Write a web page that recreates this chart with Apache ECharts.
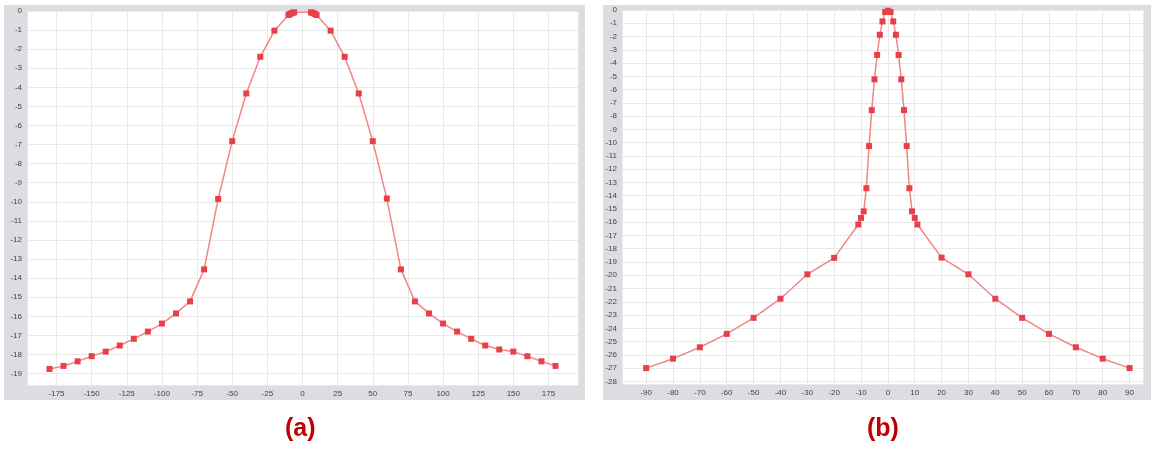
<!DOCTYPE html>
<html>
<head>
<meta charset="utf-8">
<script src="https://cdn.jsdelivr.net/npm/echarts@6/dist/echarts.min.js"></script>
<style>
html,body{margin:0;padding:0;background:#fff;}
#c{width:1151px;height:452px;}
</style>
</head>
<body>
<div id="c"></div>
<script>
// Chart (a)
const anglesA = [-180,-170,-160,-150,-140,-130,-120,-110,-100,-90,-80,-70,-60,-50,-40,-30,-20,-10,-9,-8,-7,-6,6,7,8,9,10,20,30,40,50,60,70,80,90,100,110,120,130,140,150,160,170,180];
const valuesA = [-18.76,-18.6,-18.36,-18.09,-17.85,-17.53,-17.18,-16.8,-16.38,-15.85,-15.22,-13.54,-9.85,-6.82,-4.32,-2.4,-1.03,-0.21,-0.16,-0.12,-0.09,-0.07,-0.07,-0.09,-0.12,-0.16,-0.21,-1.03,-2.4,-4.32,-6.82,-9.83,-13.54,-15.22,-15.85,-16.38,-16.8,-17.18,-17.53,-17.74,-17.85,-18.09,-18.36,-18.6];
// Chart (b)
const anglesB = [-90,-80,-70,-60,-50,-40,-30,-20,-11,-10,-9,-8,-7,-6,-5,-4,-3,-2,-1,0,1,2,3,4,5,6,7,8,9,10,11,20,30,40,50,60,70,80,90];
const valuesB = [-27.0,-26.29,-25.43,-24.42,-23.21,-21.77,-19.93,-18.69,-16.17,-15.68,-15.18,-13.44,-10.26,-7.55,-5.23,-3.39,-1.87,-0.86,-0.15,-0.05,-0.15,-0.86,-1.87,-3.39,-5.23,-7.55,-10.26,-13.44,-15.18,-15.68,-16.17,-18.67,-19.93,-21.77,-23.21,-24.42,-25.43,-26.29,-27.0];
const titles = ['(a)', '(b)'];

const chart = echarts.init(document.getElementById('c'), null, {renderer:'canvas'});
const labelStyle = {fontSize: 8, color: '#444', fontFamily: 'Liberation Sans, Arial, sans-serif'};
const splitLine = {show: true, lineStyle: {color: '#e9e9ec', width: 1}};
const lineColor = '#f28585';
const markColor = '#e8404a';

function xAxis(gridIndex, min, max, step) {
  return {type: 'value', gridIndex, min, max, minInterval: step, maxInterval: step,
    axisLine: {show: false}, axisTick: {show: false}, splitLine,
    axisLabel: Object.assign({margin: 5, showMinLabel: false, showMaxLabel: false}, labelStyle)};
}
function yAxis(gridIndex, min, max) {
  return {type: 'value', gridIndex, min, max, minInterval: 1, maxInterval: 1,
    axisLine: {show: false}, axisTick: {show: false}, splitLine,
    axisLabel: Object.assign({margin: 5, showMinLabel: false}, labelStyle)};
}
function series(idx, xs, ys) {
  return {type: 'line', xAxisIndex: idx, yAxisIndex: idx,
    data: xs.map((x, i) => [x, ys[i]]),
    symbol: 'rect', symbolSize: 6, showSymbol: true,
    lineStyle: {color: lineColor, width: 1.5},
    itemStyle: {color: markColor, borderWidth: 0},
    animation: false};
}

chart.setOption({
  animation: false,
  graphic: [
    {type: 'rect', shape: {x: 4, y: 5, width: 581, height: 395}, style: {fill: '#dcdde1'}, z: -10},
    {type: 'rect', shape: {x: 603, y: 5, width: 548, height: 395}, style: {fill: '#dcdde1'}, z: -10},
    {type: 'text', left: 285, top: 417, style: {text: titles[0], fill: '#c00000', font: 'bold 25px Liberation Sans, Arial, sans-serif'}},
    {type: 'text', left: 867, top: 417, style: {text: titles[1], fill: '#c00000', font: 'bold 25px Liberation Sans, Arial, sans-serif'}}
  ],
  grid: [
    {left: 27, top: 11, width: 551, height: 374, show: true, backgroundColor: '#fff', borderWidth: 0},
    {left: 622, top: 10, width: 521, height: 374, show: true, backgroundColor: '#fff', borderWidth: 0}
  ],
  xAxis: [xAxis(0, -196, 196, 25), xAxis(1, -99, 95, 10)],
  yAxis: [yAxis(0, -19.6, 0), yAxis(1, -28.2, 0)],
  series: [series(0, anglesA, valuesA), series(1, anglesB, valuesB)]
});
</script>
</body>
</html>
